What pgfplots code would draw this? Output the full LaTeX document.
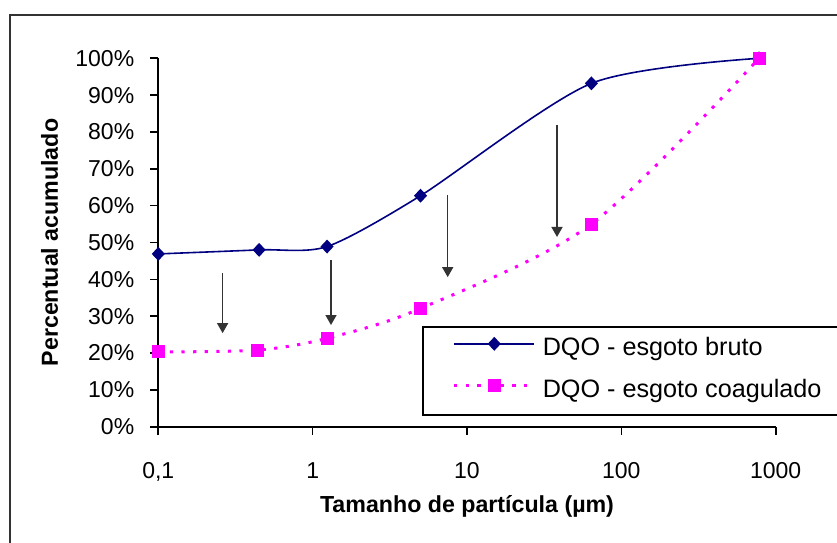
\documentclass[border=0pt]{standalone}
\usepackage{fontspec}
\setmainfont{Liberation Sans}
\usepackage{pgfplots}
\pgfplotsset{compat=1.18}
\usetikzlibrary{arrows.meta}
\definecolor{navyc}{HTML}{000080}
\definecolor{magc}{HTML}{FF00FF}
\begin{document}
\begin{tikzpicture}
\useasboundingbox (-79.15pt,-57.65pt) rectangle (339.35pt,213.35pt);
\draw[line width=1pt, black!80] (-74.15pt,205.85pt) rectangle (345pt,-62pt);
\begin{axis}[
  scale only axis, width=308.7pt, height=184.2pt,
  xmode=log, xmin=0.1, xmax=1000, ymin=0, ymax=100,
  axis lines*=left,
  axis line style={line width=0.8pt, black},
  tick align=outside, major tick length=4pt,
  xminorticks=false,
  xtick={0.1,1,10,100,1000}, xticklabels={{0,1},1,10,100,1000},
  ytick={0,10,20,30,40,50,60,70,80,90,100},
  yticklabels={0\%,10\%,20\%,30\%,40\%,50\%,60\%,70\%,80\%,90\%,100\%},
  tick style={black, line width=0.8pt},
  ticklabel style={font=\fontsize{11.5}{13}\selectfont},
  xticklabel style={anchor=base, yshift=-22pt},
  yticklabel style={anchor=east, xshift=-4.5pt},
  xlabel={Tamanho de partícula (µm)},
  ylabel={Percentual acumulado},
  xlabel style={at={(axis description cs:0.5,0)}, anchor=base, yshift=-43pt, font=\bfseries\fontsize{11.6}{13}\selectfont},
  ylabel style={at={(axis description cs:-0.1625,0.5)}, anchor=base, font=\bfseries\fontsize{11.6}{13}\selectfont},
  clip=false,
  legend style={at={(axis description cs:0.4271,0.2733)}, anchor=north west,
    draw=black, line width=0.8pt, inner xsep=15pt, inner ysep=5.5pt,
    row sep=9pt, column sep=3.5pt,
    font=\fontsize{12.6}{15}\selectfont,
    nodes={inner sep=0pt, text height=9pt, text depth=3pt},
    cells={anchor=west}},
  legend image code/.code={\draw[mark repeat=2,mark phase=2] plot coordinates {(0pt,3pt) (20pt,3pt) (40pt,3pt)};},
]
\addplot[navyc, line width=0.8pt, smooth, tension=0.45, mark=diamond*, mark size=2.9pt, mark options={solid, fill=navyc, draw=navyc, xscale=1.25}]
  coordinates {(0.1,46.9) (0.45,48.0) (1.24,48.9) (5,62.7) (64,93.2) (780,100)};
\addlegendentry{DQO - esgoto bruto}
\addplot[magc, line width=1.5pt, line cap=butt, smooth, dash pattern=on 1.6pt off 4.2pt, mark=square*, mark size=3pt, mark options={solid, line width=0.5pt, fill=magc, draw=magc}]
  coordinates {(0.1,20.3) (0.44,20.8) (1.24,24.0) (5,32.1) (64,55.0) (780,100)};
\addlegendentry{DQO - esgoto coagulado}
\draw[-{Triangle[width=5.5pt,length=5pt]}, line width=0.75pt, black!80] (axis cs:0.261,41.7) -- (axis cs:0.261,25.4);
\draw[-{Triangle[width=5.5pt,length=5pt]}, line width=0.75pt, black!80] (axis cs:1.315,45.2) -- (axis cs:1.315,27.6);
\draw[-{Triangle[width=5.5pt,length=5pt]}, line width=0.75pt, black!80] (axis cs:7.5,62.9) -- (axis cs:7.5,40.6);
\draw[-{Triangle[width=5.5pt,length=5pt]}, line width=0.75pt, black!80] (axis cs:38.3,81.9) -- (axis cs:38.3,51.5);
\end{axis}
\end{tikzpicture}
\end{document}
